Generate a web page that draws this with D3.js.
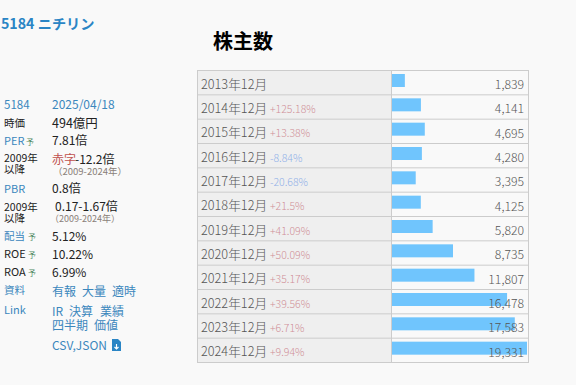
<!DOCTYPE html>
<html>
<head>
<meta charset="utf-8">
<script src="https://cdn.jsdelivr.net/npm/d3@7"></script>
<style>
  html, body { margin: 0; padding: 0; background: #f9f9f9; overflow: hidden; }
  svg { display: block; font-family: "Noto Sans CJK JP", "Noto Sans", sans-serif; }
  .label { fill: #555; font-size: 12.7px; font-weight: 300; }
  .value { fill: #555; font-size: 12.2px; font-weight: 300; text-anchor: end; }
  .change { font-size: 10.5px; font-weight: 300; }
</style>
</head>
<body>
<svg id="chart" width="576" height="385"></svg>
<script>
const periods = ["2013年12月","2014年12月","2015年12月","2016年12月","2017年12月","2018年12月","2019年12月","2020年12月","2021年12月","2022年12月","2023年12月","2024年12月"];
const holders = [1839,4141,4695,4280,3395,4125,5820,8735,11807,16478,17583,19331];
const changes = ["","+125.18%","+13.38%","-8.84%","-20.68%","+21.5%","+41.09%","+50.09%","+35.17%","+39.56%","+6.71%","+9.94%"];

// left panel: [x, y, text, class, size]
const sideTexts = [
  [4,109,"5184","link",11.5],
  [52,109,"2025/04/18","link",12],
  [4,127,"時価","plain",10.5],
  [52,128,"494億円","plain",12.5],
  [4,145,"PER","link",11],
  [52,145,"7.81倍","plain",12],
  [4,162,"2009年","plain",10.5],
  [4,173,"以降","plain",10.5],
  [52,164,"赤字","red",12],
  [75,164,"-12.2倍","plain",12],
  [53,175,"（2009-2024年）","note",9.5],
  [4,193,"PBR","link",11],
  [52,193,"0.8倍","plain",12],
  [4,211,"2009年","plain",10.5],
  [4,222,"以降","plain",10.5],
  [55,211,"0.17-1.67倍","plain",12],
  [50,222,"（2009-2024年）","note",9],
  [4,240,"配当","link",10.5],
  [52,241,"5.12%","plain",12],
  [4,258,"ROE","plain",11],
  [52,259,"10.22%","plain",12],
  [4,276,"ROA","plain",11],
  [52,277,"6.99%","plain",12],
  [4,294,"資料","link",10.5],
  [52,296,"有報","link",12],
  [82,296,"大量","link",12],
  [112,296,"適時","link",12],
  [4,314,"Link","link",11],
  [52,316,"IR","link",12],
  [69,316,"決算","link",12],
  [100,316,"業績","link",12],
  [52,330,"四半期","link",12],
  [94,330,"価値","link",12],
  [52,350,"CSV,JSON","link",12]
];
const forecastMarks = [[26,145],[28,240],[28,258],[28,276]];

const svg = d3.select("#chart");

// header
svg.append("text").attr("x", 1).attr("y", 29)
  .style("font-size", "14.2px").style("font-weight", 700)
  .style("fill", "#2a85c5")
  .text("5184 ニチリン");

svg.append("text").attr("x", 213).attr("y", 49)
  .style("font-size", "20px").style("font-weight", 700)
  .style("fill", "#000")
  .text("株主数");

// side panel
svg.append("g").selectAll("text")
  .data(sideTexts)
  .enter()
  .append("text")
  .attr("x", d => d[0])
  .attr("y", d => d[1])
  .style("font-size", d => d[4] + "px")
  .style("fill", d => d[3] == "link" ? "#3b87bd" : d[3] == "red" ? "#c0504d" : d[3] == "note" ? "#8a7f78" : "#222")
  .text(d => d[2]);

svg.append("g").selectAll("text")
  .data(forecastMarks)
  .enter()
  .append("text")
  .attr("x", d => d[0])
  .attr("y", d => d[1])
  .style("font-size", "8px")
  .style("fill", "#4f8a63")
  .text("予");

// file icon after CSV,JSON
const icon = svg.append("g").attr("transform", "translate(112,339)");
icon.append("path").attr("d", "M0 0H6L9 3V12H0Z").style("fill", "#2a85c5");
icon.append("path").attr("d", "M4.5 5V10M2.5 8L4.5 10L6.5 8").style("stroke", "#fff").style("fill", "none").style("stroke-width", 1.2);

// table
const tableLeft = 197.5, tableRight = 528.5, divider = 391.5;
const y = d3.scaleBand().domain(periods).range([70.5, 362.5]);
const x = d3.scaleLinear().domain([0, d3.max(holders)]).range([392, 527]);

const rows = svg.append("g").selectAll("g")
  .data(periods)
  .enter()
  .append("g")
  .attr("transform", d => `translate(0,${y(d)})`);

rows.append("rect")
  .attr("x", tableLeft)
  .attr("width", divider - tableLeft)
  .attr("height", y.bandwidth())
  .style("fill", "#efefef");

rows.append("rect")
  .attr("x", x(0))
  .attr("y", 3.5)
  .attr("width", (d, i) => x(holders[i]) - x(0))
  .attr("height", 13)
  .style("fill", "#70c5fd");

rows.append("text")
  .attr("class", "label")
  .attr("x", 201)
  .attr("y", 18)
  .text(d => d);

rows.append("text")
  .attr("class", "change")
  .attr("x", 270)
  .attr("y", 18)
  .style("fill", (d, i) => changes[i][0] == "-" ? "#8fb0e8" : "#cf8f98")
  .text((d, i) => changes[i]);

rows.append("text")
  .attr("class", "value")
  .attr("x", 524)
  .attr("y", 18.5)
  .text((d, i) => d3.format(",")(holders[i]));

// grid lines
svg.append("g").selectAll("line")
  .data(periods.slice(1))
  .enter()
  .append("line")
  .attr("x1", tableLeft).attr("x2", tableRight)
  .attr("y1", d => y(d)).attr("y2", d => y(d))
  .style("stroke", "#ccc");

svg.append("line")
  .attr("x1", divider).attr("x2", divider)
  .attr("y1", 70.5).attr("y2", 362.5)
  .style("stroke", "#ccc");

svg.append("rect")
  .attr("x", tableLeft).attr("y", 70.5)
  .attr("width", tableRight - tableLeft).attr("height", 292)
  .style("fill", "none").style("stroke", "#ccc");
</script>
</body>
</html>
